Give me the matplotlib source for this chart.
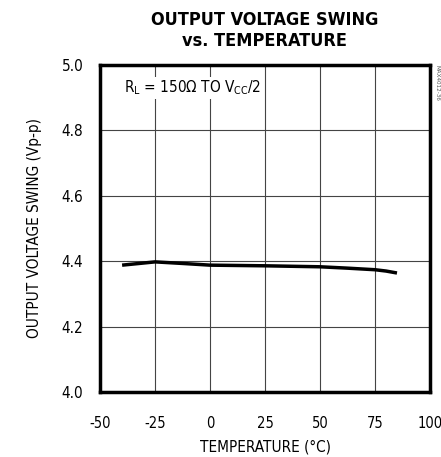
import matplotlib.pyplot as plt

# curve
temp = [-40, -25, -12, 0, 25, 50, 62, 75, 80, 85]
swing = [4.388, 4.398, 4.393, 4.388, 4.386, 4.383, 4.379, 4.374, 4.370, 4.364]

xticks = [-50, -25, 0, 25, 50, 75, 100]
yticks = [4.0, 4.2, 4.4, 4.6, 4.8, 5.0]

plt.rcParams['font.family'] = ['DejaVu Sans']
plt.rcParams['font.stretch'] = 'condensed'

fig = plt.figure(figsize=(4.41, 4.57), dpi=100)
ax = fig.add_axes([0.227, 0.142, 0.748, 0.716])

ax.plot(temp, swing, color='black', linewidth=2.5, solid_capstyle='butt')

ax.set_xlim(-50, 100)
ax.set_ylim(4.0, 5.0)
ax.set_xticks(xticks)
ax.set_yticks(yticks)
ax.set_xticklabels([str(t) for t in xticks], fontsize=10.5)
ax.set_yticklabels(['%.1f' % t for t in yticks], fontsize=11)
ax.tick_params(axis='y', length=0, pad=12)
ax.tick_params(axis='x', length=0, pad=17)
ax.grid(True, color='#444444', linewidth=0.8)
for s in ax.spines.values():
    s.set_linewidth(2.5)

ax.set_xlabel('TEMPERATURE (°C)', fontsize=11, labelpad=6)
ax.set_ylabel('OUTPUT VOLTAGE SWING (Vp-p)', fontsize=11, labelpad=14)

fig.text(0.6, 0.975, 'OUTPUT VOLTAGE SWING\nvs. TEMPERATURE', ha='center', va='top',
         fontsize=13, fontweight='bold', linespacing=1.2)

ax.text(-39, 4.93, r'R$_\mathregular{L}$ = 150Ω TO V$_\mathregular{CC}$/2', fontsize=11,
        va='center', ha='left',
        bbox=dict(facecolor='white', edgecolor='none', pad=1))

fig.text(0.99, 0.858, 'MAX4012-36', rotation=270, fontsize=4.5, ha='center', va='top',
         color='#555555')

fig.savefig('out.png', dpi=100)
